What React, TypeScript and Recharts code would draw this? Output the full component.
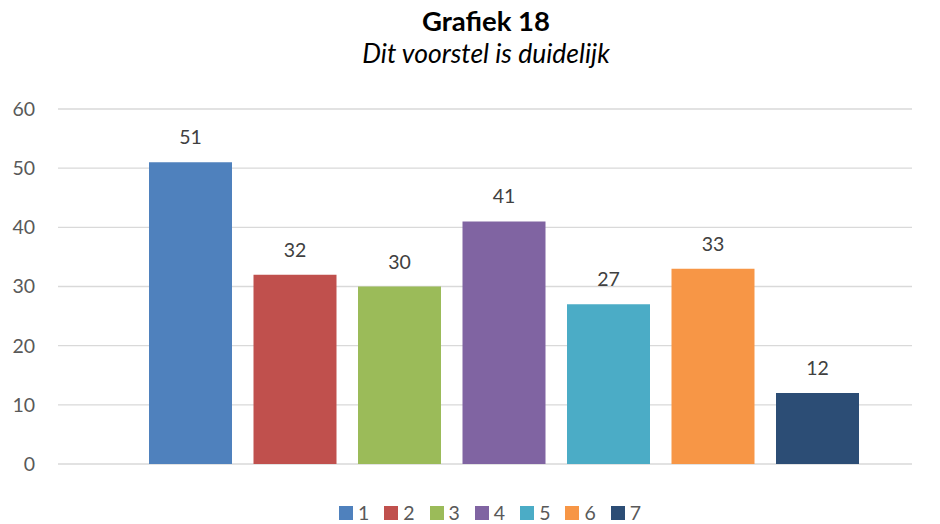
import { BarChart, Bar, XAxis, YAxis, CartesianGrid, Legend, LabelList } from 'recharts';

const seriesNames = ['1', '2', '3', '4', '5', '6', '7'];
const seriesValues = [51, 32, 30, 41, 27, 33, 12];
const seriesColors = ['#4F81BD', '#C0504D', '#9BBB59', '#8064A2', '#4BACC6', '#F79646', '#2C4D75'];
const yTicks = [0, 10, 20, 30, 40, 50, 60];

const FONT = 'Lato, "Open Sans", sans-serif';

const chartData = [
  seriesNames.reduce<Record<string, number | string>>(
    (row, name, i) => {
      row[`s${name}`] = seriesValues[i];
      return row;
    },
    { name: '' }
  ),
];

const LegendContent = () => (
  <div style={{ display: 'flex', justifyContent: 'center', fontFamily: FONT, fontSize: 19.5, color: '#595959' }}>
    {seriesNames.map((name, i) => (
      <div key={name} style={{ display: 'flex', alignItems: 'center', marginRight: i < seriesNames.length - 1 ? 15 : 0 }}>
        <span style={{ display: 'inline-block', width: 14, height: 14, background: seriesColors[i], marginRight: 5 }} />
        <span style={{ lineHeight: '18px' }}>{name}</span>
      </div>
    ))}
  </div>
);

const App = () => {
  return (
    <div style={{ position: 'absolute', left: 0, top: 0, width: 940, height: 524, background: '#fff' }}>
      <div
        style={{
          position: 'absolute',
          left: 0,
          width: 972,
          top: 5,
          textAlign: 'center',
          fontFamily: FONT,
          color: '#000',
        }}
      >
        <div style={{ fontWeight: 700, fontSize: 27.5, lineHeight: '32px' }}>Grafiek 18</div>
        <div style={{ fontStyle: 'italic', fontSize: 26.5, lineHeight: '32px' }}>Dit voorstel is duidelijk</div>
      </div>
      <BarChart
        width={940}
        height={524}
        data={chartData}
        margin={{ top: 109, right: 28, bottom: 60, left: 0 }}
        barCategoryGap={52}
        barGap={21.5}
      >
        <CartesianGrid vertical={false} stroke="#d9d9d9" strokeWidth={1.3} />
        <XAxis dataKey="name" hide padding={{ left: 39, right: 0 }} />
        <YAxis
          width={58}
          domain={[0, 60]}
          ticks={yTicks}
          axisLine={false}
          tickLine={false}
          tickSize={0}
          tickMargin={23}
          tick={{ fill: '#595959', fontSize: 19.5, fontFamily: FONT }}
        />
        <Legend
          layout="horizontal"
          verticalAlign="middle"
          align="center"
          content={<LegendContent />}
          wrapperStyle={{ top: 504, left: 20, width: 940, height: 19 }}
        />
        {seriesNames.map((name, i) => (
          <Bar key={name} dataKey={`s${name}`} name={name} fill={seriesColors[i]} isAnimationActive={false}>
            <LabelList
              dataKey={`s${name}`}
              position="top"
              offset={18}
              fill="#404040"
              fontSize={19.5}
              fontFamily={FONT}
            />
          </Bar>
        ))}
      </BarChart>
    </div>
  );
};

export default App;
